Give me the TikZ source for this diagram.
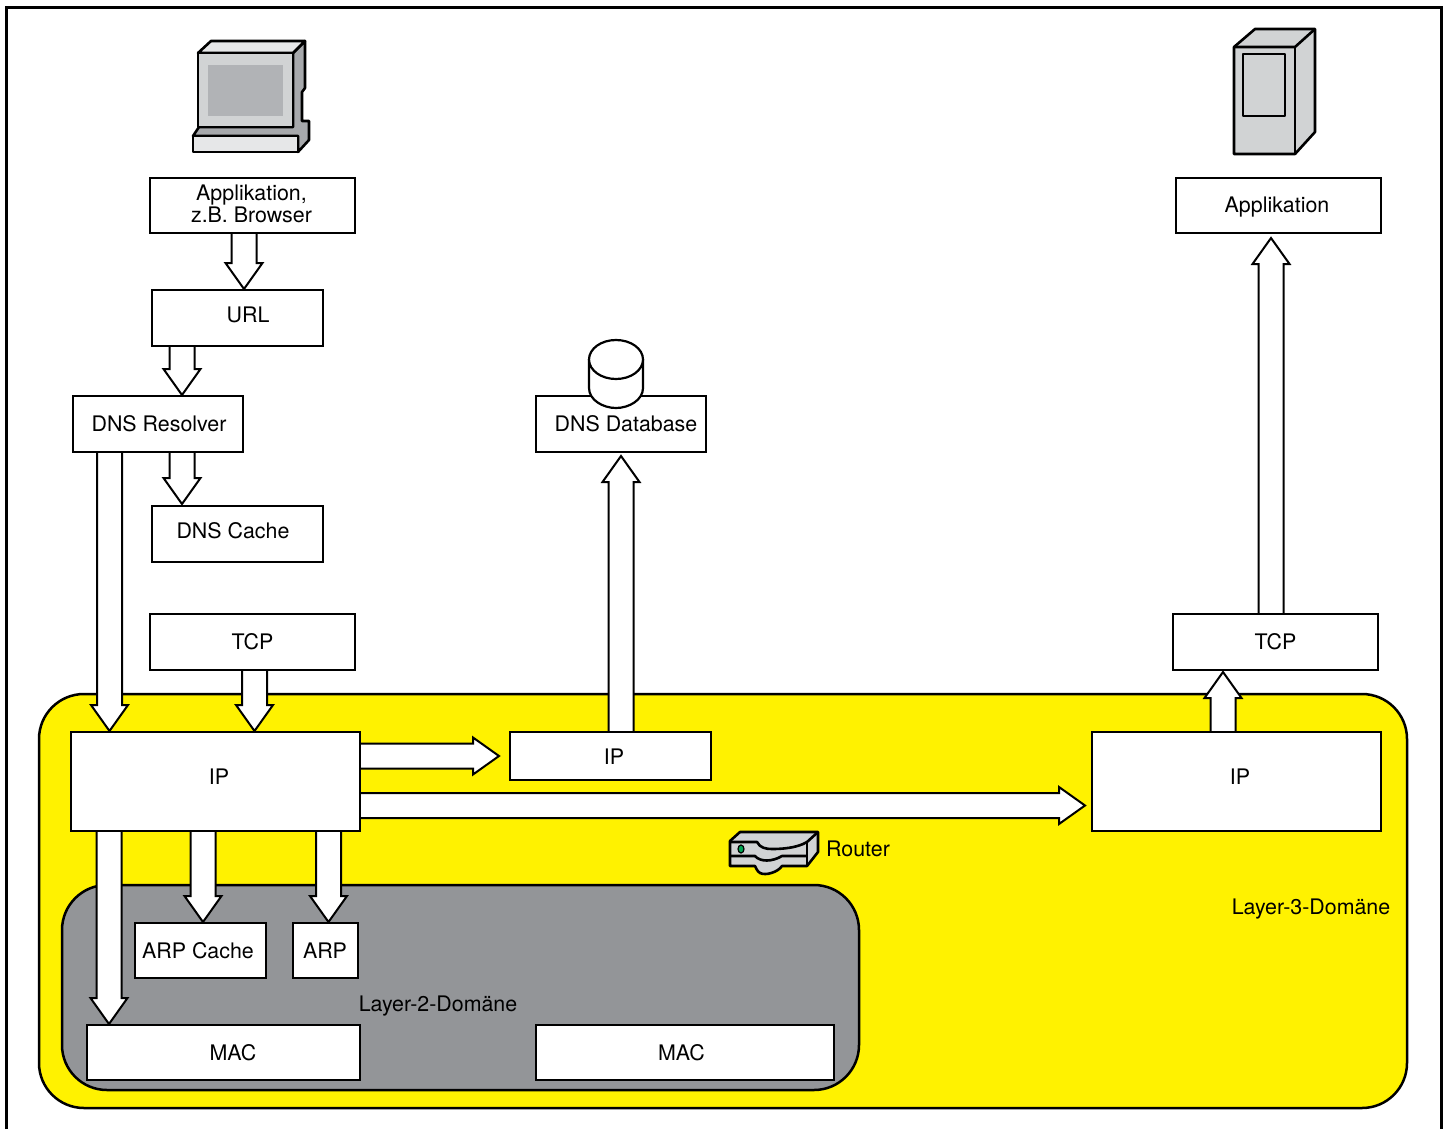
\documentclass[tikz,border=0pt]{standalone}
\usepackage{fontspec}
\setmainfont{TeX Gyre Heros}
\usetikzlibrary{calc,backgrounds}
\definecolor{domyellow}{HTML}{FFF200}
\definecolor{domgray}{HTML}{939598}
\definecolor{iconlight}{HTML}{E6E7E8}
\definecolor{iconmid}{HTML}{D1D3D4}
\definecolor{icondark}{HTML}{A7A9AC}
\definecolor{iconscreen}{HTML}{B1B3B6}
\definecolor{ledgreen}{HTML}{00A651}
\newcommand{\nudge}[3]{\raisebox{\dimexpr #2-8.5pt\relax}[0pt][0pt]{\hspace*{#1}#3}}

\begin{document}
\begin{tikzpicture}[x=1pt,y=-1pt,
	every node/.style={font=\fontsize{21.4}{22}\selectfont, inner sep=0pt},
	boxnode/.style={draw, fill=white, line width=2pt},
	domnode/.style={draw, line width=2.5pt, rounded corners=45pt},
	icon/.style={draw, line width=2.6pt, line join=round},
	blockarrow/.style={draw, fill=white, line width=2pt, miter limit=10, to path={
		($(\tikztotarget)!26pt!(\tikztostart)$) coordinate (bk)
		($(\tikztostart)!12.5pt!90:(\tikztotarget)$)
		-- ($(bk)!12.5pt!90:(\tikztotarget)$)
		-- ($(bk)!18.5pt!90:(\tikztotarget)$)
		-- (\tikztotarget)
		-- ($(bk)!18.5pt!-90:(\tikztotarget)$)
		-- ($(bk)!12.5pt!-90:(\tikztotarget)$)
		-- ($(\tikztostart)!12.5pt!-90:(\tikztotarget)$)}}]
\useasboundingbox (0,0) rectangle (1447,1129);
\draw[line width=3pt] (6,1129) -- (6,8) -- (1441,8) -- (1441,1129);

\node[boxnode, minimum width=205pt, minimum height=55pt, align=center] (appclient) at (252.5,205.5) {\hspace*{-2pt}Applikation,\\\hspace*{-2pt}z.B. Browser\\[-18pt]\mbox{}};
\node[boxnode, minimum width=171pt, minimum height=56pt] (url) at (237.5,318) {\nudge{21pt}{4pt}{URL}};
\node[boxnode, minimum width=170pt, minimum height=56pt] (dnsres) at (158,424) {\nudge{2pt}{1.5pt}{DNS Resolver}};
\node[boxnode, minimum width=171pt, minimum height=56pt] (dnscache) at (237.5,534) {\nudge{-9pt}{4.5pt}{DNS Cache}};
\node[boxnode, minimum width=205pt, minimum height=56pt] (tcpclient) at (252.5,642) {\nudge{0pt}{1pt}{TCP}};
\node[boxnode, minimum width=170pt, minimum height=56pt] (dnsdb) at (621,424) {\nudge{10pt}{1.5pt}{DNS Database}};
\node[boxnode, minimum width=205pt, minimum height=55pt] (appserver) at (1278.5,205.5) {\nudge{-3pt}{2pt}{Applikation}};
\node[boxnode, minimum width=205pt, minimum height=56pt] (tcpserver) at (1275.5,642) {\nudge{0pt}{1pt}{TCP}};
\node[boxnode, minimum width=289pt, minimum height=99pt] (ipclient) at (215.5,781.5) {\nudge{7pt}{5.5pt}{IP}};
\node[boxnode, minimum width=201pt, minimum height=48pt] (ipdns) at (610.5,756) {\nudge{7pt}{0pt}{IP}};
\node[boxnode, minimum width=289pt, minimum height=99pt] (ipserver) at (1236.5,781.5) {\nudge{7pt}{5.5pt}{IP}};
\node[boxnode, minimum width=131pt, minimum height=55pt] (arpcache) at (200.5,950.5) {\nudge{-5pt}{0.5pt}{ARP Cache}};
\node[boxnode, minimum width=65pt, minimum height=55pt] (arp) at (325.5,950.5) {\nudge{-1pt}{0.5pt}{ARP}};
\node[boxnode, minimum width=273pt, minimum height=55pt] (macclient) at (223.5,1052.5) {\nudge{19pt}{0.5pt}{MAC}};
\node[boxnode, minimum width=298pt, minimum height=55pt] (macserver) at (685,1052.5) {\nudge{-7pt}{0.5pt}{MAC}};

\node (l3label) at (1311,909) {Layer-3-Domäne};
\node (l2label) at (438,1006) {Layer-2-Domäne};
\node (routerlabel) at (858,848.5) {Router};

\begin{scope}[on background layer]
	\node[domnode, fill=domyellow, minimum width=1368pt, minimum height=414pt] (l3dom) at (723,901) {};
	\node[domnode, fill=domgray, minimum width=797pt, minimum height=205pt] (l2dom) at (460.5,987.5) {};
	\draw[blockarrow] ([xshift=-8.5pt]appclient.south) to ([xshift=6.5pt]url.north);
	\draw[blockarrow] ([xshift=-55.5pt]url.south) to ([xshift=24pt]dnsres.north);
	\draw[blockarrow] ([xshift=24pt]dnsres.south) to ([xshift=-55.5pt,yshift=1pt]dnscache.north);
	\draw[blockarrow] ([xshift=-48.5pt]dnsres.south) to ([xshift=-106pt]ipclient.north);
	\draw[blockarrow] ([xshift=2pt]tcpclient.south) to ([xshift=39pt]ipclient.north);
	\draw[blockarrow] (ipclient.east |- ipdns.west) to ([xshift=-10pt]ipdns.west);
	\draw[blockarrow] ([yshift=-24pt]ipclient.east) to ([xshift=-6pt,yshift=-24pt]ipserver.west);
	\draw[blockarrow] ([xshift=-106.5pt]ipclient.south) to ([xshift=-114.5pt]macclient.north);
	\draw[blockarrow] ([xshift=-12.5pt]ipclient.south) to ([xshift=2.5pt]arpcache.north);
	\draw[blockarrow] ([xshift=113pt]ipclient.south) to ([xshift=3pt]arp.north);
	\draw[blockarrow] ([xshift=10.5pt]ipdns.north) to ([yshift=-3pt]dnsdb.south);
	\draw[blockarrow] ([xshift=-13.5pt]ipserver.north) to ([xshift=-52.5pt,yshift=-1pt]tcpserver.south);
	\draw[blockarrow] ([xshift=-4.5pt]tcpserver.north) to ([xshift=-7.5pt,yshift=-4pt]appserver.south);
\end{scope}

\draw[icon, fill=white, line width=2.2pt] (589,359) -- (589,388) .. controls (589,400) and (603,408) .. (616,408) .. controls (629,408) and (643,400) .. (643,388) -- (643,359);
\draw[icon, fill=white, line width=2.2pt] (616,359.5) ellipse (27pt and 19.5pt);

\draw[icon, fill=icondark] (193,136) -- (199,127) -- (293,127) -- (293,53) -- (305,41) -- (305,88) -- (302,92) -- (302,121) -- (309,121) -- (309,140) -- (298,152) -- (298,136) -- cycle;
\draw[icon, fill=iconlight] (198,53) -- (211,41) -- (305,41) -- (293,53) -- cycle;
\draw[icon, fill=iconmid] (198,53) rectangle (293,127);
\fill[iconscreen] (208,65) rectangle (283,116);
\draw[icon, fill=iconlight] (193,136) rectangle (298,152);

\draw[icon, fill=iconmid] (1234,47) -- (1255,29) -- (1315,29) -- (1315,132) -- (1295,154) -- (1234,154) -- cycle;
\draw[icon] (1234,47) -- (1295,47) -- (1315,29);
\draw[icon] (1295,47) -- (1295,154);
\draw[icon] (1243,54) rectangle (1285,116);

\draw[icon, fill=iconmid] (730,841) -- (740,832) -- (818,832) -- (818,852) -- (807,866) -- (782,866) .. controls (778,872) and (766,876) .. (760,873) .. controls (757,871) and (756,868) .. (755,866) -- (730,866) -- cycle;
\draw[icon] (730,842) -- (757,842) .. controls (760,848) and (766,849) .. (772,849) .. controls (782,849) and (797,848) .. (807,842) -- (818,832);
\draw[icon] (807,842) -- (807,866);
\draw[icon] (730,856) -- (755,856) .. controls (760,862) and (772,862) .. (782,856) -- (807,856);
\draw[fill=ledgreen, line width=1.2pt] (741,849) ellipse (3pt and 4pt);
\end{tikzpicture}
\end{document}
